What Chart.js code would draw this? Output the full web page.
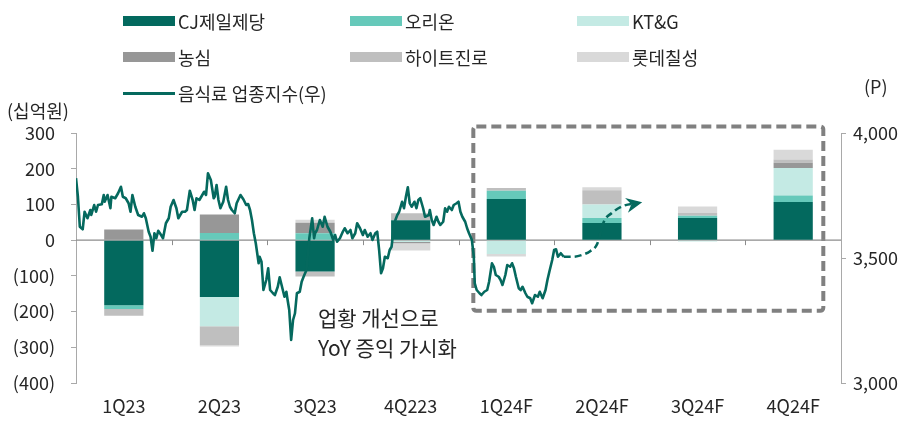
<!DOCTYPE html>
<html><head><meta charset="utf-8">
<script src="https://cdn.jsdelivr.net/npm/chart.js@4.4.0/dist/chart.umd.min.js"></script>
<style>
html,body{margin:0;padding:0;background:#fff;}
#wrap{position:relative;width:912px;height:421px;font-family:"Noto Sans CJK KR","Noto Sans",sans-serif;color:#262626;overflow:hidden;}
#c{position:absolute;left:0;top:0;}
.lg{position:absolute;font-size:18px;height:24px;line-height:24px;white-space:nowrap;display:flex;align-items:center;}
.sw{display:inline-block;width:52px;margin-right:3px;}
.ttl{position:absolute;font-size:18px;line-height:24px;white-space:nowrap;}
</style></head><body>
<div id="wrap"><canvas id="c" width="912" height="421"></canvas></div>
<script>
// ---- data ----
const categories = ['1Q23','2Q23','3Q23','4Q223','1Q24F','2Q24F','3Q24F','4Q24F'];
const seriesNames = ['CJ제일제당','오리온','KT&G','농심','하이트진로','롯데칠성'];
const lineName = '음식료 업종지수(우)';
const cj       = [-182,-159,-88, 56,115, 48, 62,107];
const orion    = [ -11,  20, 19,  0, 23, 14,  6, 18];
const ktg      = [   0, -82,  0, -5,-39, 38, -4, 77];
const nongshim = [  30,  52, 30, -4,  0,  0,  0, 15];
const hite     = [ -19, -53,-14, 19,  8, 40,  8,  9];
const lotte    = [   0,  -4,  8,-20, -7,  8, 18, 27];
// food index (right axis), position in quarter units from start of 1Q23
const indexPos = [0.00,0.02,0.04,0.07,0.09,0.12,0.15,0.16,0.19,0.21,0.23,0.27,0.29,0.30,0.33,0.36,0.37,0.41,0.44,0.47,0.49,0.52,0.55,0.57,0.59,0.62,0.65,0.69,0.71,0.73,0.76,0.78,0.80,0.82,0.84,0.86,0.89,0.91,0.94,0.97,0.99,1.02,1.05,1.07,1.11,1.14,1.16,1.19,1.22,1.24,1.26,1.29,1.31,1.34,1.36,1.38,1.41,1.44,1.45,1.47,1.49,1.51,1.54,1.57,1.59,1.61,1.63,1.66,1.68,1.72,1.75,1.78,1.80,1.82,1.84,1.86,1.88,1.91,1.92,1.94,1.96,1.99,2.01,2.03,2.06,2.08,2.11,2.13,2.15,2.18,2.20,2.21,2.23,2.25,2.27,2.29,2.31,2.34,2.36,2.38,2.41,2.44,2.47,2.49,2.50,2.52,2.55,2.58,2.60,2.63,2.66,2.69,2.71,2.73,2.76,2.79,2.81,2.84,2.87,2.89,2.92,2.94,2.97,3.00,3.02,3.05,3.08,3.10,3.13,3.15,3.17,3.19,3.21,3.23,3.26,3.28,3.30,3.32,3.34,3.36,3.38,3.41,3.43,3.45,3.47,3.49,3.51,3.54,3.56,3.58,3.60,3.63,3.65,3.69,3.70,3.72,3.74,3.77,3.79,3.81,3.84,3.86,3.88,3.90,3.93,3.95,3.98,4.00,4.02,4.04,4.07,4.09,4.11,4.14,4.16,4.17,4.19,4.22,4.24,4.27,4.30,4.32,4.35,4.37,4.39,4.42,4.44,4.46,4.49,4.51,4.54,4.56,4.58,4.60,4.63,4.65,4.67,4.70,4.72,4.75,4.77,4.80,4.83,4.85,4.88,4.91,4.93,4.95,4.98,5.00,5.02,5.04,5.07,5.10];
const indexVal = [3819,3745,3625,3615,3685,3659,3692,3672,3712,3685,3712,3715,3752,3725,3752,3699,3745,3739,3759,3785,3745,3739,3719,3685,3752,3705,3672,3665,3679,3659,3605,3585,3529,3599,3579,3609,3592,3579,3639,3659,3705,3732,3699,3659,3685,3685,3692,3769,3732,3692,3739,3732,3745,3765,3752,3839,3812,3739,3745,3792,3732,3699,3725,3785,3732,3705,3692,3679,3719,3752,3735,3712,3716,3692,3652,3599,3559,3479,3505,3485,3372,3412,3459,3372,3359,3352,3385,3423,3392,3345,3365,3339,3292,3172,3252,3279,3359,3365,3405,3425,3452,3579,3659,3579,3599,3612,3652,3625,3665,3625,3605,3572,3592,3565,3579,3605,3619,3599,3612,3579,3599,3639,3619,3592,3612,3585,3599,3572,3599,3605,3532,3439,3459,3505,3499,3532,3545,3612,3652,3672,3685,3725,3699,3745,3783,3719,3705,3725,3699,3732,3739,3699,3665,3672,3692,3652,3632,3665,3645,3632,3645,3699,3685,3705,3692,3712,3719,3725,3685,3665,3645,3619,3599,3572,3505,3399,3372,3359,3352,3365,3372,3405,3479,3465,3432,3425,3412,3392,3432,3472,3465,3479,3459,3425,3379,3372,3385,3359,3345,3339,3319,3352,3345,3365,3339,3372,3412,3445,3492,3532,3535,3505,3519,3505];
// dashed outlook arrow (right axis)
const outlookPos = [5.10,5.20,5.29,5.38,5.45,5.52,5.60,5.72,5.88];
const outlookVal = [3505,3505,3512,3528,3556,3645,3679,3708,3720];
const annoLines = ['업황 개선으로','YoY 증익 가시화'];

// ---- annotation placement (data units) ----
const boxX = [4.155, 7.815], boxY = [318, -198];
const annoX = 2.53, annoY = [-218, -302];

const barColors = ['#03695E','#66C9BA','#C4EAE4','#979797','#BFBFBF','#D9D9D9'];
const lineColor = '#05695E';
const barSeries = [cj, orion, ktg, nongshim, hite, lotte];
const FONT = '"Noto Sans CJK KR","Noto Sans",sans-serif';
const TXT = '#262626';
Chart.defaults.font.family = FONT;
Chart.defaults.font.size = 18;
Chart.defaults.color = TXT;

const decor = {
  id: 'decor',
  beforeDatasetsDraw(chart) {
    const {ctx, chartArea: a, scales} = chart;
    const y = scales.y, xl = scales.xl;
    ctx.save();
    const bx1 = xl.getPixelForValue(boxX[0]), bx2 = xl.getPixelForValue(boxX[1]);
    const by1 = y.getPixelForValue(boxY[0]), by2 = y.getPixelForValue(boxY[1]);
    ctx.strokeStyle = '#808080'; ctx.lineWidth = 4; ctx.setLineDash([10, 5]);
    ctx.beginPath();
    if (ctx.roundRect) ctx.roundRect(bx1, by1, bx2 - bx1, by2 - by1, 3); else ctx.rect(bx1, by1, bx2 - bx1, by2 - by1);
    ctx.stroke();
    ctx.setLineDash([]);
    const y0 = y.getPixelForValue(0);
    ctx.strokeStyle = '#8c8c8c'; ctx.lineWidth = 1.3;
    ctx.beginPath(); ctx.moveTo(a.left, y0); ctx.lineTo(a.right, y0); ctx.stroke();
    ctx.lineWidth = 1;
    ctx.beginPath();
    for (let i = 1; i < categories.length; i++) {
      const px = Math.round(xl.getPixelForValue(i)) + 0.5;
      ctx.moveTo(px, y0); ctx.lineTo(px, y0 + 5);
    }
    ctx.stroke();
    ctx.restore();
  },
  afterDatasetsDraw(chart) {
    const {ctx, scales} = chart;
    const y = scales.y, xl = scales.xl;
    ctx.save();
    const meta = chart.getDatasetMeta(7);
    const pts = meta.data;
    const p1 = pts[pts.length - 2], p2 = pts[pts.length - 1];
    let dx = p2.x - p1.x, dy = p2.y - p1.y; const L = Math.hypot(dx, dy); dx /= L; dy /= L;
    const px = -dy, py = dx;
    const tip = {x: p2.x + 4 * dx, y: p2.y + 4 * dy};
    ctx.fillStyle = lineColor;
    ctx.beginPath();
    ctx.moveTo(tip.x, tip.y);
    ctx.lineTo(tip.x - 16 * dx + 7.5 * px, tip.y - 16 * dy + 7.5 * py);
    ctx.lineTo(tip.x - 11 * dx, tip.y - 11 * dy);
    ctx.lineTo(tip.x - 16 * dx - 7.5 * px, tip.y - 16 * dy - 7.5 * py);
    ctx.closePath(); ctx.fill();
    ctx.fillStyle = TXT; ctx.font = '21px ' + FONT; ctx.textBaseline = 'middle'; ctx.textAlign = 'left';
    annoLines.forEach((t, i) => ctx.fillText(t, xl.getPixelForValue(annoX), y.getPixelForValue(annoY[i])));
    ctx.restore();
  }
};

const datasets = barSeries.map((d, i) => ({
  type: 'bar', label: seriesNames[i], data: d, backgroundColor: barColors[i],
  xAxisID: 'x', yAxisID: 'y', stack: 's', order: 2, borderWidth: 0, grouped: false,
  barPercentage: 0.41, categoryPercentage: 1
}));
datasets.push({
  type: 'line', label: lineName, data: indexPos.map((p, i) => ({x: p, y: indexVal[i]})),
  xAxisID: 'xl', yAxisID: 'y1', borderColor: lineColor, borderWidth: 2.6, pointRadius: 0,
  tension: 0, order: 0, borderJoinStyle: 'round'
});
datasets.push({
  type: 'line', label: 'outlook', data: outlookPos.map((p, i) => ({x: p, y: outlookVal[i]})),
  xAxisID: 'xl', yAxisID: 'y1', borderColor: lineColor, borderWidth: 2.6, borderDash: [7, 4],
  pointRadius: 0, cubicInterpolationMode: 'monotone', order: 0
});

const axisGray = '#a9a9a9';
new Chart(document.getElementById('c'), {
  type: 'bar',
  data: {labels: categories, datasets},
  options: {
    responsive: false, animation: false, devicePixelRatio: 1,
    layout: {padding: {top: 133, left: 0, right: 0, bottom: 0}},
    plugins: {legend: {display: false}, tooltip: {enabled: false}},
    scales: {
      x: {
        type: 'category', position: 'bottom', offset: true, stacked: true,
        grid: {display: false}, border: {display: false},
        ticks: {padding: 4, maxRotation: 0, autoSkip: false, color: TXT, font: {size: 18}},
        afterFit(s) { s.height = 38; }
      },
      xl: {type: 'linear', min: 0, max: 8, display: false, offset: false, grid: {offset: false}},
      y: {
        position: 'left', min: -400, max: 300, stacked: true,
        ticks: {stepSize: 100, padding: 16, color: TXT, font: {size: 18},
          callback: v => v < 0 ? '(' + (-v) + ')' : String(v)},
        grid: {drawOnChartArea: false, drawTicks: true, tickLength: 5, color: axisGray},
        border: {display: true, color: axisGray, width: 1},
        afterFit(s) { s.width = 76; }
      },
      y1: {
        position: 'right', min: 3000, max: 4000,
        ticks: {stepSize: 500, padding: 7, color: TXT, font: {size: 18},
          callback: v => v.toLocaleString('en-US')},
        grid: {drawOnChartArea: false, drawTicks: true, tickLength: 5, color: axisGray},
        border: {display: true, color: axisGray, width: 1},
        afterFit(s) { s.width = 71; }
      }
    }
  },
  plugins: [decor]
});

// ---- HTML legend & axis titles ----
const wrap = document.getElementById('wrap');
const colX = [123, 350, 577], rowY = [21, 57, 93];
function addItem(name, col, row, isLine, color) {
  const d = document.createElement('div');
  d.className = 'lg';
  d.style.left = colX[col] + 'px'; d.style.top = (rowY[row] - 12) + 'px';
  const s = document.createElement('span'); s.className = 'sw';
  s.style.background = color; s.style.height = isLine ? '3px' : '10px';
  d.appendChild(s);
  d.appendChild(document.createTextNode(name));
  wrap.appendChild(d);
}
seriesNames.forEach((n, i) => addItem(n, i % 3, Math.floor(i / 3), false, barColors[i]));
addItem(lineName, 0, 2, true, lineColor);
function addTitle(t, x, yc) {
  const d = document.createElement('div'); d.className = 'ttl';
  d.style.left = x + 'px'; d.style.top = (yc - 12) + 'px'; d.textContent = t; wrap.appendChild(d);
}
addTitle('(십억원)', 7, 110);
addTitle('(P)', 864, 86);
</script>
</body></html>
